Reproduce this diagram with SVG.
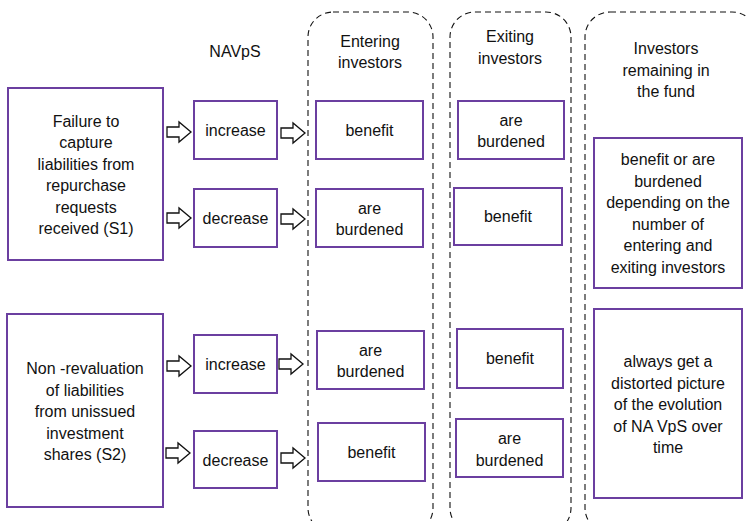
<svg xmlns="http://www.w3.org/2000/svg" width="748" height="521" viewBox="0 0 748 521">
<style>
text{font-family:"Liberation Sans",Arial,sans-serif;font-size:16px;fill:#111;text-anchor:middle}
.box{fill:#fff;stroke:#6b3fa0;stroke-width:2}
.col{fill:none;stroke:#111;stroke-width:1.1;stroke-dasharray:6 4}
.arr{fill:#fff;stroke:#111;stroke-width:1.3;stroke-linejoin:miter}
</style>
<defs>
<path id="ar" d="M0,-5 H12 V-10 L24,0 L12,10 V5 H0 Z"/>
</defs>
<rect width="748" height="521" fill="#fff"/>
<g id="columns">
<rect class="col" x="308" y="12" width="125" height="521" rx="25"/>
<rect class="col" x="450" y="12" width="121" height="521" rx="25"/>
<rect class="col" x="585" y="12" width="172" height="521" rx="25"/>
</g>
<g id="headers">
<text x="235" y="57">NAVpS</text>
<text x="370" y="47">Entering</text>
<text x="370" y="68">investors</text>
<text x="510" y="42">Exiting</text>
<text x="510" y="64">investors</text>
<text x="666" y="54">Investors</text>
<text x="666" y="76">remaining in</text>
<text x="666" y="97">the fund</text>
</g>
<g id="s1">
<rect class="box" x="8" y="88" width="155" height="172"/>
<text x="86" y="126.5">Failure to</text>
<text x="86" y="148">capture</text>
<text x="86" y="169.5">liabilities from</text>
<text x="86" y="191">repurchase</text>
<text x="86" y="212.5">requests</text>
<text x="86" y="234">received (S1)</text>
</g>
<g id="s2">
<rect class="box" x="7" y="314" width="156" height="193"/>
<text x="85" y="374">Non -revaluation</text>
<text x="85" y="395.5">of liabilities</text>
<text x="85" y="417">from unissued</text>
<text x="85" y="438.5">investment</text>
<text x="85" y="460">shares (S2)</text>
</g>
<g id="nav1"><rect class="box" x="194" y="101" width="83" height="58"/><text x="235.5" y="136">increase</text></g>
<g id="nav2"><rect class="box" x="194" y="189" width="83" height="58"/><text x="235.5" y="224">decrease</text></g>
<g id="nav3"><rect class="box" x="194" y="335" width="83" height="58"/><text x="235.5" y="370">increase</text></g>
<g id="nav4"><rect class="box" x="194" y="431" width="83" height="57"/><text x="235.5" y="466">decrease</text></g>
<g id="ent1"><rect class="box" x="316" y="101" width="107" height="58"/><text x="369.5" y="136">benefit</text></g>
<g id="ent2"><rect class="box" x="316" y="189" width="107" height="58"/><text x="369.5" y="214">are</text><text x="369.5" y="235">burdened</text></g>
<g id="ent3"><rect class="box" x="317" y="331" width="107" height="58"/><text x="370.5" y="356">are</text><text x="370.5" y="377">burdened</text></g>
<g id="ent4"><rect class="box" x="318" y="423" width="107" height="58"/><text x="371.5" y="458">benefit</text></g>
<g id="exi1"><rect class="box" x="458" y="101" width="106" height="58"/><text x="511" y="126">are</text><text x="511" y="147">burdened</text></g>
<g id="exi2"><rect class="box" x="454" y="188" width="108" height="57"/><text x="508" y="222">benefit</text></g>
<g id="exi3"><rect class="box" x="457" y="329" width="106" height="59"/><text x="510" y="364">benefit</text></g>
<g id="exi4"><rect class="box" x="456" y="419" width="107" height="58"/><text x="509.5" y="444">are</text><text x="509.5" y="466">burdened</text></g>
<g id="rem1">
<rect class="box" x="594" y="138" width="148" height="150"/>
<text x="668" y="165">benefit or are</text>
<text x="668" y="186.5">burdened</text>
<text x="668" y="208">depending on the</text>
<text x="668" y="229.5">number of</text>
<text x="668" y="251">entering and</text>
<text x="668" y="272.5">exiting investors</text>
</g>
<g id="rem2">
<rect class="box" x="594" y="309" width="148" height="189"/>
<text x="668" y="367">always get a</text>
<text x="668" y="388.5">distorted picture</text>
<text x="668" y="410">of the evolution</text>
<text x="668" y="431.5">of NA VpS over</text>
<text x="668" y="453">time</text>
</g>
<g id="connectors">
<use href="#ar" class="arr" transform="translate(167,132)"/>
<use href="#ar" class="arr" transform="translate(281,133)"/>
<use href="#ar" class="arr" transform="translate(167,218)"/>
<use href="#ar" class="arr" transform="translate(281,219)"/>
<use href="#ar" class="arr" transform="translate(167,366)"/>
<use href="#ar" class="arr" transform="translate(279,364)"/>
<use href="#ar" class="arr" transform="translate(166,453)"/>
<use href="#ar" class="arr" transform="translate(281,458)"/>
</g>
</svg>
